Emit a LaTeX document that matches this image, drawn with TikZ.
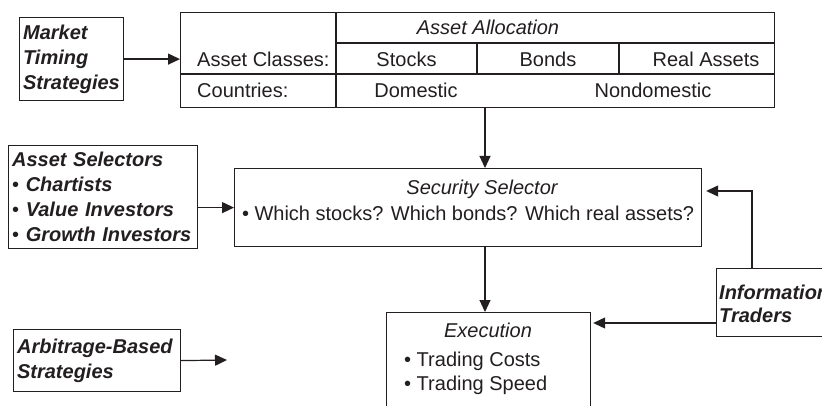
\documentclass[tikz,border=0pt]{standalone}
\usepackage{fontspec}
\setmainfont{Liberation Sans}
\usetikzlibrary{arrows.meta}
\definecolor{ink}{HTML}{231F20}
\begin{document}
\begin{tikzpicture}[x=1pt,y=-1pt,
  font=\fontsize{20}{25}\selectfont,
  box/.style={draw=ink, line width=1.2pt, inner ysep=0pt, inner xsep=3.5pt, anchor=north west, text=ink},
  lbl/.style={text=ink, inner sep=0pt, text height=14.4pt, text depth=0pt},
  bi/.style={font=\fontsize{20}{25}\selectfont\bfseries\itshape},
  ln/.style={draw=ink, line width=1.2pt},
  arr/.style={draw=ink, line width=1.2pt, -{Triangle[length=12pt,width=11pt]}}]
\path[use as bounding box, clip] (0,0) rectangle (822,406);
\fill[white] (0,0) rectangle (822,406);

% left boxes
\node[box, bi, minimum width=104pt, minimum height=83pt, text width=97pt, align=left] (mkt) at (19,17) {Market\\Timing\\Strategies};
\node[box, bi, minimum width=189pt, minimum height=103pt, text width=182pt, align=left] (sel) at (8,145) {Asset Selectors\\{\normalfont\textbullet} Chartists\\{\normalfont\textbullet} Value Investors\\{\normalfont\textbullet} Growth Investors};
\node[box, bi, minimum width=167pt, minimum height=62pt, text width=160pt, align=left] (arb) at (13,329) {Arbitrage-Based\\Strategies};

% asset allocation table
\node[box, minimum width=594pt, minimum height=95pt] (alloc) at (180,12) {};
\draw[ln] (336,12) -- (336,107);
\draw[ln] (336,43) -- (774,43);
\draw[ln] (180,74) -- (774,74);
\draw[ln] (477,43) -- (477,74);
\draw[ln] (619,43) -- (619,74);
\node[lbl] (taa) at (488,27.5) {\itshape Asset Allocation};
\node[lbl, anchor=west] (tac) at (197,59) {Asset Classes:};
\node[lbl] (tst) at (406.5,59) {Stocks};
\node[lbl] (tbo) at (548,59) {Bonds};
\node[lbl] (tra) at (706,59) {Real Assets};
\node[lbl, anchor=west] (tco) at (197,90) {Countries:};
\node[lbl] (tdo) at (416,90) {Domestic};
\node[lbl] (tnd) at (653,90) {Nondomestic};

% security selector
\node[box, minimum width=467pt, minimum height=78pt] (sec) at (234,168) {};
\node[lbl] (tss) at (482,187) {\itshape Security Selector};
\node[lbl] (tsq) at (468,213) {\textbullet\ Which stocks? Which bonds? Which real assets?};

% execution
\node[box, minimum width=204pt, minimum height=120pt] (exe) at (386,312) {};
\node[lbl] (tex) at (488,330) {\itshape Execution};
\node[lbl, anchor=west] (tc1) at (404,359) {\textbullet\ Trading Costs};
\node[lbl, anchor=west] (tc2) at (404,383) {\textbullet\ Trading Speed};

% information traders
\node[box, minimum width=130pt, minimum height=68pt] (info) at (716,268) {};
\node[anchor=west, inner sep=0pt, bi, text=ink, align=left] (tin) at (719,303.5) {Information\\[-2pt]Traders};

% connectors
\coordinate (a1) at (485,107);
\coordinate (i1) at (752,191);
\coordinate (i2) at (0,323);
\coordinate (arbend) at (227,360);
\draw[arr] (mkt.east) -- (alloc.west |- mkt.east);
\draw[arr] (a1) -- (a1 |- sec.north);
\draw[arr] (sec.west -| sel.east) -- (sec.west);
\draw[arr] (a1 |- sec.south) -- (a1 |- exe.north);
\draw[arr] (i1 |- info.north) -- (i1) -- ([xshift=4pt]sec.east |- i1);
\draw[arr] (info.west |- i2) -- ([xshift=2pt]exe.east |- i2);
\draw[arr] (arb.east) -- (arbend);
\end{tikzpicture}
\end{document}
